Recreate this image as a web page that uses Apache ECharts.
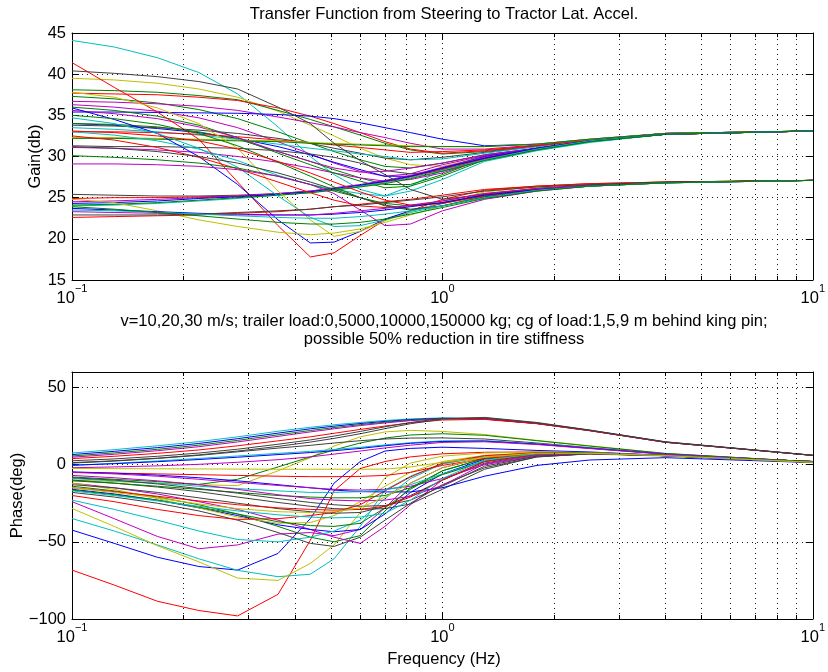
<!DOCTYPE html>
<html>
<head>
<meta charset="utf-8">
<script src="https://cdn.jsdelivr.net/npm/echarts@6/dist/echarts.min.js"></script>
<style>
  html, body { margin: 0; padding: 0; background: #ffffff; }
  #chart { width: 828px; height: 672px; }
</style>
</head>
<body>
<div id="chart"></div>
<script>
// Frequency points (Hz) shared by every response curve
const freqHz = [0.1, 0.13, 0.17, 0.22, 0.28, 0.36, 0.44, 0.51, 0.6, 0.7, 0.82, 1.0, 1.3, 1.8, 2.5, 4, 10];

// Gain (dB) of each configuration, one row per curve
const gainCurves = [
  [44.1, 43.3, 42.0, 40.2, 37.6, 33.6, 30.0, 27.8, 26.0, 25.2, 26.4, 28.4, 30.2, 31.0, 31.9, 32.7, 33.1],
  [39.5, 39.3, 38.9, 38.2, 37.2, 35.5, 33.8, 32.5, 31.0, 29.8, 29.0, 28.8, 30.0, 31.0, 31.9, 32.7, 33.1],
  [38.1, 38.0, 37.8, 37.4, 36.9, 35.6, 34.5, 33.6, 32.6, 31.6, 30.8, 30.3, 30.6, 31.3, 32.0, 32.8, 33.1],
  [37.7, 37.6, 37.5, 37.2, 36.8, 35.9, 34.9, 34.0, 32.9, 31.8, 30.9, 30.4, 30.7, 31.3, 32.0, 32.8, 33.1],
  [37.3, 37.0, 36.5, 35.7, 34.6, 33.0, 31.6, 30.6, 29.6, 28.8, 28.6, 29.2, 30.2, 31.0, 31.9, 32.7, 33.1],
  [36.7, 36.6, 36.4, 36.1, 35.6, 34.8, 34.1, 33.6, 32.9, 32.3, 31.6, 30.9, 30.9, 31.4, 32.0, 32.8, 33.1],
  [36.3, 36.0, 35.5, 34.7, 33.5, 31.8, 30.3, 29.2, 28.2, 27.6, 27.9, 29.0, 30.1, 31.0, 31.9, 32.7, 33.1],
  [35.4, 35.4, 35.35, 35.3, 35.25, 35.1, 34.9, 34.6, 34.1, 33.5, 32.9, 32.1, 31.3, 31.5, 32.1, 32.8, 33.1],
  [34.0, 33.8, 33.4, 32.9, 32.2, 31.2, 30.2, 29.3, 28.4, 27.6, 27.6, 28.6, 30.0, 31.0, 31.9, 32.7, 33.1],
  [34.0, 33.9, 33.6, 33.0, 32.1, 30.6, 29.4, 28.4, 27.4, 26.6, 26.6, 27.8, 29.8, 30.9, 31.8, 32.7, 33.1],
  [33.8, 33.7, 33.5, 33.2, 32.8, 32.2, 31.6, 31.0, 30.4, 29.8, 29.6, 29.9, 30.5, 31.2, 32.0, 32.8, 33.1],
  [33.5, 33.3, 33.0, 32.6, 32.1, 31.5, 31.0, 30.7, 30.3, 30.0, 29.6, 29.7, 30.4, 31.2, 32.0, 32.8, 33.1],
  [33.0, 33.0, 32.9, 32.7, 32.4, 32.0, 31.7, 31.4, 31.1, 30.8, 30.5, 30.6, 30.8, 31.3, 32.0, 32.8, 33.1],
  [32.3, 32.3, 32.2, 32.1, 32.0, 31.9, 31.7, 31.6, 31.5, 31.4, 31.3, 31.2, 31.2, 31.5, 32.1, 32.8, 33.1],
  [32.2, 32.2, 32.1, 32.0, 31.9, 31.8, 31.6, 31.5, 31.4, 31.3, 31.2, 31.2, 31.2, 31.5, 32.1, 32.8, 33.1],
  [31.3, 31.2, 31.2, 31.1, 31.0, 30.7, 30.3, 29.9, 29.2, 28.3, 27.9, 28.2, 29.8, 30.9, 31.8, 32.7, 33.1],
  [31.1, 31.0, 30.8, 30.5, 30.0, 29.3, 28.6, 28.0, 27.4, 27.0, 27.2, 28.0, 29.7, 30.9, 31.8, 32.7, 33.1],
  [36.0, 35.6, 34.9, 33.8, 32.3, 30.4, 29.0, 28.0, 27.0, 26.2, 26.4, 27.6, 29.6, 30.8, 31.8, 32.7, 33.1],
  [35.6, 35.2, 34.6, 33.6, 32.3, 30.6, 29.4, 28.6, 28.1, 28.2, 28.6, 29.2, 30.2, 31.0, 31.9, 32.7, 33.1],
  [33.0, 32.6, 31.9, 30.9, 29.5, 27.7, 26.6, 26.0, 25.5, 25.2, 25.8, 27.2, 29.4, 30.7, 31.7, 32.7, 33.1],
  [25.4, 25.3, 25.2, 25.2, 25.3, 25.5, 25.8, 26.1, 26.5, 27.0, 27.6, 28.5, 29.8, 31.0, 31.9, 32.7, 33.1],
  [24.9, 25.0, 25.0, 25.1, 25.2, 25.4, 25.7, 26.0, 26.4, 26.9, 27.5, 28.4, 29.7, 30.9, 31.9, 32.7, 33.1],
  [24.5, 24.6, 24.8, 25.0, 25.2, 25.5, 25.8, 26.2, 26.6, 27.1, 27.7, 28.7, 29.9, 31.0, 31.9, 32.7, 33.1],
  [24.3, 24.4, 24.6, 24.9, 25.1, 25.4, 25.7, 26.1, 26.5, 27.0, 27.6, 28.6, 29.8, 31.0, 31.9, 32.7, 33.1],
  [24.0, 24.1, 24.3, 24.6, 24.9, 25.3, 25.6, 26.0, 26.4, 26.8, 27.4, 28.3, 29.6, 30.9, 31.9, 32.7, 33.1],
  [24.1, 24.2, 24.4, 24.7, 25.0, 25.3, 25.6, 25.9, 26.3, 26.7, 27.3, 28.2, 29.5, 30.8, 31.8, 32.7, 33.1],
  [41.4, 38.4, 35.4, 32.1, 26.9, 21.6, 17.8, 18.3, 20.4, 22.3, 23.4, 24.8, 25.9, 26.4, 26.7, 26.9, 27.1],
  [35.9, 34.5, 32.8, 30.0, 26.6, 22.3, 19.5, 19.6, 20.9, 22.4, 23.4, 24.3, 25.4, 26.1, 26.5, 26.85, 27.1],
  [37.8, 37.2, 35.9, 34.0, 31.0, 25.8, 22.3, 20.3, 20.9, 22.2, 23.3, 24.4, 25.7, 26.3, 26.6, 26.9, 27.1],
  [24.8, 24.4, 23.4, 22.3, 21.5, 20.8, 20.5, 20.7, 21.2, 22.0, 22.9, 24.0, 25.3, 26.2, 26.6, 26.9, 27.1],
  [40.4, 40.1, 39.7, 39.1, 38.2, 36.0, 34.0, 31.6, 29.5, 27.8, 26.0, 24.8, 25.4, 26.1, 26.5, 26.85, 27.1],
  [34.7, 34.0, 32.8, 31.0, 28.7, 25.2, 22.6, 21.5, 21.6, 22.3, 23.2, 24.0, 25.0, 25.9, 26.4, 26.8, 27.1],
  [32.5, 32.0, 31.1, 29.9, 28.5, 26.9, 25.6, 24.7, 24.0, 23.8, 24.0, 24.6, 25.5, 26.1, 26.5, 26.85, 27.1],
  [30.1, 29.9, 29.6, 29.2, 28.6, 27.6, 26.6, 25.8, 25.0, 24.3, 24.0, 24.4, 25.3, 26.0, 26.5, 26.85, 27.1],
  [29.1, 29.1, 29.0, 28.8, 28.4, 27.6, 26.6, 25.5, 23.5, 21.6, 21.8, 23.4, 24.8, 25.8, 26.4, 26.8, 27.1],
  [35.0, 34.6, 33.9, 32.8, 31.3, 29.3, 27.6, 26.3, 25.0, 24.0, 23.5, 24.0, 25.1, 25.9, 26.4, 26.8, 27.1],
  [33.1, 32.9, 32.5, 31.9, 30.9, 29.4, 28.0, 26.9, 25.7, 24.7, 24.1, 24.3, 25.2, 26.0, 26.5, 26.85, 27.1],
  [31.2, 31.0, 30.6, 30.0, 29.2, 28.0, 26.9, 26.0, 25.0, 24.1, 23.6, 24.0, 25.1, 25.9, 26.4, 26.8, 27.1],
  [23.7, 23.5, 23.3, 23.1, 23.0, 22.9, 22.9, 23.0, 23.2, 23.5, 23.9, 24.4, 25.3, 26.0, 26.5, 26.85, 27.1],
  [23.3, 23.2, 23.1, 23.0, 22.9, 22.9, 22.9, 23.1, 23.4, 23.7, 24.1, 24.6, 25.5, 26.1, 26.5, 26.85, 27.1],
  [22.6, 22.7, 22.8, 22.9, 23.1, 23.3, 23.6, 23.9, 24.2, 24.5, 24.8, 25.3, 26.0, 26.4, 26.7, 26.9, 27.1],
  [22.9, 22.9, 22.9, 23.0, 23.2, 23.4, 23.6, 23.9, 24.1, 24.4, 24.7, 25.1, 25.8, 26.3, 26.6, 26.9, 27.1],
  [23.5, 23.4, 23.2, 23.0, 22.8, 22.6, 22.5, 22.5, 22.7, 23.0, 23.4, 24.0, 25.0, 25.9, 26.4, 26.8, 27.1],
  [23.9, 23.6, 23.2, 22.8, 22.4, 22.0, 21.8, 21.8, 22.0, 22.4, 23.0, 23.8, 24.9, 25.8, 26.4, 26.8, 27.1]
];
const gainColors = 'cygrgmmbbgkcrygkmgmckrmbcgrbyykcrgmgrkbmrkcg';

// Phase (deg) of each configuration, one row per curve
const phaseCurves = [
  [7.5, 9.7, 12.2, 14.9, 18.0, 21.6, 24.2, 25.8, 27.3, 28.6, 29.6, 30.3, 29.8, 26.8, 22.2, 14.6, 6.0],
  [6.5, 8.6, 11.0, 13.7, 16.8, 20.4, 23.2, 24.9, 26.6, 28.0, 29.2, 30.0, 29.7, 26.7, 22.1, 14.5, 6.0],
  [5.6, 7.6, 9.9, 12.6, 15.7, 19.3, 22.1, 24.0, 25.9, 27.5, 28.8, 29.8, 29.6, 26.6, 22.0, 14.5, 6.0],
  [4.8, 6.7, 9.0, 11.6, 14.7, 18.3, 21.2, 23.2, 25.3, 27.0, 28.5, 29.6, 29.5, 26.6, 22.0, 14.5, 6.0],
  [3.9, 5.4, 7.3, 9.5, 12.2, 15.4, 18.0, 20.3, 22.8, 25.0, 27.0, 28.9, 29.3, 26.5, 22.0, 14.5, 6.0],
  [1.3, 2.5, 4.2, 6.3, 8.8, 11.8, 14.6, 17.0, 20.0, 23.3, 26.5, 29.5, 30.6, 27.3, 22.4, 14.8, 6.1],
  [2.5, 3.7, 5.4, 7.5, 10.0, 13.2, 16.0, 18.5, 21.5, 24.5, 27.3, 29.9, 30.3, 27.0, 22.3, 14.7, 6.0],
  [-10.0, -11.0, -12.0, -13.0, -13.6, -4.0, 4.5, 12.0, 18.0, 21.2, 22.2, 21.5, 19.5, 15.7, 12.2, 7.3, 1.8],
  [-8.0, -9.5, -11.0, -12.8, -9.5, -1.5, 5.0, 9.5, 14.0, 17.2, 19.2, 20.0, 19.0, 15.5, 12.0, 7.2, 1.8],
  [1.0, 2.3, 4.0, 6.0, 8.3, 10.7, 12.5, 14.0, 15.5, 16.6, 17.2, 17.3, 16.6, 14.0, 11.0, 7.0, 1.8],
  [-0.5, 0.8, 2.4, 4.0, 5.6, 7.3, 8.6, 9.8, 11.2, 12.8, 14.2, 15.4, 15.6, 13.5, 10.7, 6.9, 1.8],
  [-0.4, 0.6, 1.9, 3.3, 4.8, 6.5, 7.8, 9.0, 10.5, 12.2, 13.8, 15.0, 15.2, 13.3, 10.6, 6.8, 1.8],
  [-2.0, -1.5, -0.8, 0.2, 1.5, 3.2, 5.0, 6.8, 8.8, 10.8, 12.6, 14.4, 14.8, 13.0, 10.4, 6.7, 1.8],
  [-68.3, -78.0, -88.5, -94.5, -98.0, -84.0, -49.0, -17.0, -2.5, 2.0, 5.0, 7.0, 8.0, 8.2, 7.8, 6.0, 2.0],
  [-42.4, -51.0, -60.0, -66.0, -68.3, -57.5, -35.0, -12.0, 2.0, 8.8, 10.5, 11.3, 10.5, 9.2, 8.2, 6.0, 2.0],
  [-34.9, -43.0, -52.0, -61.0, -68.5, -72.6, -71.0, -61.0, -40.0, -16.5, -7.5, 0.5, 5.0, 7.6, 7.6, 6.0, 2.0],
  [-28.4, -40.0, -52.5, -63.0, -73.5, -75.0, -64.0, -52.0, -31.0, -8.5, 1.0, 5.5, 7.5, 8.2, 7.8, 6.0, 2.0],
  [-24.0, -35.0, -46.5, -54.5, -52.0, -45.0, -44.0, -46.0, -42.0, -28.0, -12.0, -2.0, 4.5, 7.3, 7.5, 6.0, 2.0],
  [-18.0, -21.0, -25.0, -30.0, -36.0, -44.0, -51.0, -53.0, -47.0, -36.0, -25.0, -13.0, -2.0, 5.0, 7.0, 5.8, 1.5],
  [-14.0, -17.0, -21.0, -26.0, -32.0, -40.0, -47.0, -50.0, -46.0, -30.0, -15.0, -4.0, 4.0, 7.5, 7.6, 5.9, 2.0],
  [-12.0, -15.0, -19.0, -24.0, -29.0, -36.0, -42.0, -47.0, -51.0, -40.0, -26.0, -10.0, 2.0, 6.8, 7.4, 5.9, 2.0],
  [-16.0, -19.0, -23.0, -28.0, -33.0, -39.0, -42.0, -43.5, -42.0, -32.0, -18.0, -6.0, 3.5, 7.2, 7.5, 5.9, 2.0],
  [-23.0, -29.0, -36.0, -43.0, -48.5, -50.0, -47.0, -43.0, -36.0, -22.0, -9.0, 0.5, 5.5, 7.6, 7.6, 5.9, 2.0],
  [-12.0, -16.0, -22.0, -28.0, -34.0, -38.0, -37.5, -33.0, -24.0, -14.0, -5.0, 2.0, 6.0, 7.7, 7.6, 5.9, 2.0],
  [-20.0, -24.0, -29.0, -33.0, -35.5, -35.0, -33.0, -31.0, -26.0, -17.0, -8.0, 1.0, 5.8, 7.7, 7.6, 5.9, 2.0],
  [-16.5, -19.5, -23.0, -27.5, -32.0, -37.0, -39.5, -40.0, -38.0, -28.0, -16.0, -4.0, 4.0, 7.3, 7.5, 5.9, 2.0],
  [-13.0, -15.0, -18.0, -21.5, -25.0, -28.5, -30.5, -31.5, -31.0, -27.0, -20.0, -10.0, 1.0, 6.5, 7.3, 5.8, 2.0],
  [-10.0, -12.0, -14.5, -17.5, -21.0, -24.5, -27.0, -28.5, -29.0, -28.5, -25.5, -16.0, -3.0, 5.0, 7.0, 5.8, 1.5],
  [-2.5, -2.6, -2.7, -2.8, -2.9, -3.0, -3.0, -3.0, -3.0, -2.9, -1.5, 1.5, 4.5, 6.5, 6.8, 5.5, 1.5],
  [-5.0, -5.5, -6.0, -6.5, -7.0, -7.5, -7.8, -7.8, -7.6, -7.0, -5.0, -0.5, 4.0, 6.8, 7.2, 5.8, 1.5],
  [-4.7, -5.5, -6.8, -8.5, -10.5, -13.0, -15.0, -16.5, -17.5, -17.7, -17.7, -15.0, -7.5, -0.5, 3.0, 4.5, 1.3],
  [-5.0, -6.0, -7.5, -9.5, -11.5, -13.5, -15.0, -16.0, -16.5, -16.0, -14.0, -9.0, 0.0, 5.5, 7.0, 5.8, 1.5],
  [-9.0, -10.5, -12.0, -14.0, -15.5, -17.0, -18.0, -18.0, -17.5, -16.5, -13.0, -6.0, 2.5, 6.8, 7.3, 5.8, 1.5],
  [-10.5, -12.0, -14.0, -16.0, -18.0, -20.0, -21.0, -21.5, -21.5, -20.0, -15.0, -6.5, 2.0, 6.5, 7.2, 5.8, 1.5],
  [-7.0, -8.5, -10.5, -13.0, -16.0, -19.5, -22.0, -23.0, -23.5, -23.0, -20.5, -13.5, 0.5, 6.0, 7.2, 5.8, 1.5],
  [-8.5, -10.0, -12.5, -15.5, -18.5, -22.0, -24.5, -26.0, -27.0, -26.5, -23.0, -14.0, -1.0, 5.5, 7.0, 5.8, 1.5],
  [-15.0, -17.5, -20.5, -23.5, -26.0, -28.0, -29.0, -29.5, -29.0, -27.0, -21.0, -10.0, 2.0, 6.8, 7.3, 5.8, 1.5],
  [-17.0, -20.0, -23.5, -27.0, -30.0, -32.5, -34.0, -34.5, -34.0, -31.5, -23.0, -9.0, 3.0, 7.0, 7.3, 5.8, 1.5],
  [-15.0, -18.0, -21.5, -25.5, -28.5, -30.5, -31.0, -30.5, -28.0, -21.0, -12.0, -2.0, 5.0, 7.4, 7.4, 5.8, 1.5]
];
const phaseColors = 'cbgmrkkygkcbmrbcymkgmbcyrgkkyrbmcgmkrcy';

// Axis ranges and log-decade minor positions
const gainRange = [15, 45];
const phaseRange = [-100, 60];
const freqRange = [0.1, 10];
const minorFreqs = [0.2, 0.3, 0.4, 0.5, 0.6, 0.7, 0.8, 0.9, 2, 3, 4, 5, 6, 7, 8, 9];

// Texts
const titleText = 'Transfer Function from Steering to Tractor Lat. Accel.';
const noteLines = [
  'v=10,20,30 m/s; trailer load:0,5000,10000,150000 kg; cg of load:1,5,9 m behind king pin;',
  'possible 50% reduction in tire stiffness'
];
const gainLabel = 'Gain(db)';
const phaseLabel = 'Phase(deg)';
const freqLabel = 'Frequency (Hz)';

const FONT = '"Liberation Sans", Arial, Helvetica, sans-serif';
const palette = { b: '#0000ff', g: '#008000', r: '#ff0000', c: '#00bfbf', m: '#bf00bf', y: '#bfbf00', k: '#404040' };
const dotStyle = { color: '#000', width: 1, type: [1, 4], opacity: 0.9 };

function powLabel(v) {
  const e = Math.round(Math.log10(v));
  return '{b|10}{s|' + (e < 0 ? '\u2212' + (-e) : e) + '}';
}

function freqAxes(gridIndex) {
  const base = {
    gridIndex, type: 'log', logBase: 10, min: freqRange[0], max: freqRange[1],
    axisLine: { onZero: false, lineStyle: { color: '#000', width: 1 } },
    axisTick: { inside: true, length: 7, lineStyle: { color: '#000', width: 1 } }
  };
  return [
    Object.assign({}, base, {
      position: 'bottom',
      axisLabel: {
        formatter: powLabel, margin: 3, color: '#000',
        rich: {
          b: { fontSize: 16.5, fontFamily: FONT, color: '#000', padding: [7, 0, 0, 0] },
          s: { fontSize: 11, fontFamily: FONT, color: '#000', verticalAlign: 'top' }
        }
      },
      splitLine: { show: true, lineStyle: dotStyle }
    }),
    Object.assign({}, base, {
      position: 'top', axisLabel: { show: false }, splitLine: { show: false }
    })
  ];
}

function valueAxes(gridIndex, range, step, fmt) {
  const base = {
    gridIndex, type: 'value', min: range[0], max: range[1], interval: step,
    axisLine: { show: true, onZero: false, lineStyle: { color: '#000', width: 1 } },
    axisTick: { show: true, inside: true, length: 7, lineStyle: { color: '#000', width: 1 } }
  };
  return [
    Object.assign({}, base, {
      position: 'left',
      axisLabel: { formatter: fmt, margin: 6, fontSize: 16.5, fontFamily: FONT, color: '#000' },
      splitLine: { show: true, lineStyle: dotStyle }
    }),
    Object.assign({}, base, {
      position: 'right', axisLabel: { show: false }, splitLine: { show: false }
    })
  ];
}

function curveSeries(curves, colors, xIdx, yIdx) {
  return curves.map((vals, i) => ({
    type: 'line',
    xAxisIndex: xIdx, yAxisIndex: yIdx,
    data: freqHz.map((f, j) => [f, vals[j]]),
    showSymbol: false, symbol: 'none', silent: true,
    lineStyle: { width: 1, color: palette[colors[i]] },
    itemStyle: { color: palette[colors[i]] },
    z: 3
  }));
}

// Dotted minor grid plus short inward minor ticks on bottom and top edges
function minorDecor(xIdx, yIdx, range, tickLen) {
  const gridLines = minorFreqs.map(f => ({ xAxis: f }));
  const ticks = [];
  minorFreqs.forEach(f => {
    ticks.push([{ coord: [f, range[0]] }, { coord: [f, range[0] + tickLen] }]);
    ticks.push([{ coord: [f, range[1]] }, { coord: [f, range[1] - tickLen] }]);
  });
  return [
    {
      type: 'line', xAxisIndex: xIdx, yAxisIndex: yIdx, data: [], silent: true, z: 1,
      markLine: { silent: true, symbol: ['none', 'none'], label: { show: false }, animation: false,
        lineStyle: dotStyle, data: gridLines }
    },
    {
      type: 'line', xAxisIndex: xIdx, yAxisIndex: yIdx, data: [], silent: true, z: 4,
      markLine: { silent: true, symbol: ['none', 'none'], label: { show: false }, animation: false,
        lineStyle: { color: '#000', width: 1, type: 'solid' }, data: ticks }
    }
  ];
}

const chart = echarts.init(document.getElementById('chart'), null, { renderer: 'canvas' });

const textStyle = (t, size) => ({ text: t, font: size + 'px ' + FONT, fill: '#000',
  textAlign: 'center', textVerticalAlign: 'middle', verticalAlign: 'middle' });

chart.setOption({
  animation: false,
  backgroundColor: '#ffffff',
  grid: [
    { left: 72, top: 33, width: 744, height: 247, containLabel: false },
    { left: 72, top: 372, width: 744, height: 247, containLabel: false }
  ],
  xAxis: [].concat(freqAxes(0), freqAxes(1)),
  yAxis: [].concat(
    valueAxes(0, gainRange, 5, v => String(v)),
    valueAxes(1, phaseRange, 50, v => (v % 50 === 0 ? (v < 0 ? '\u2212' + (-v) : String(v)) : ''))
  ),
  series: [].concat(
    minorDecor(0, 0, gainRange, 0.5),
    curveSeries(gainCurves, gainColors, 0, 0),
    minorDecor(2, 2, phaseRange, 2.6),
    curveSeries(phaseCurves, phaseColors, 2, 2)
  ),
  graphic: [
    { type: 'text', x: 444, y: 14, style: textStyle(titleText, 16.5) },
    { type: 'text', x: 444, y: 321, style: textStyle(noteLines[0], 16.5) },
    { type: 'text', x: 444, y: 339.5, style: textStyle(noteLines[1], 16.5) },
    { type: 'text', x: 444, y: 659, style: textStyle(freqLabel, 16.5) },
    { type: 'text', x: 35, y: 156.5, rotation: Math.PI / 2, style: textStyle(gainLabel, 16.5) },
    { type: 'text', x: 17, y: 495.5, rotation: Math.PI / 2, style: textStyle(phaseLabel, 16.5) }
  ]
});
</script>
</body>
</html>
